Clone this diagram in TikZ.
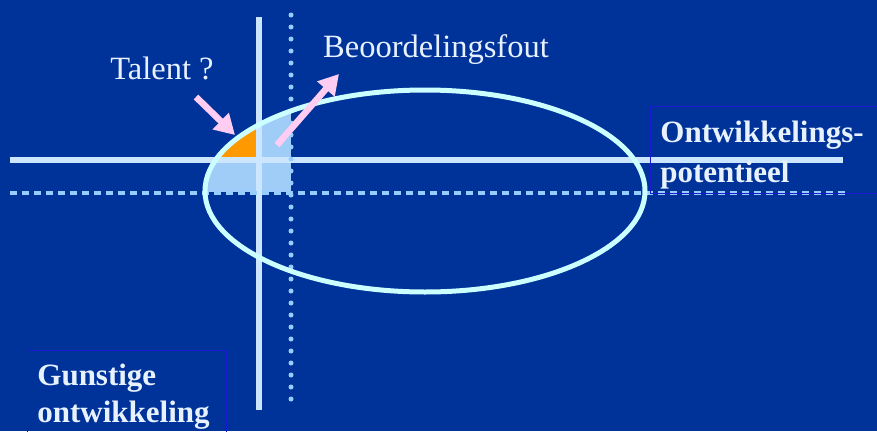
\documentclass[tikz,border=0pt]{standalone}
\usepackage{fontspec}
\setmainfont{Liberation Serif}
\usetikzlibrary{arrows.meta, positioning}
\definecolor{cBack}{HTML}{003399}
\definecolor{cAxis}{HTML}{CCE6FF}
\definecolor{cDots}{HTML}{99CCFF}
\definecolor{cRing}{HTML}{CCFFFF}
\definecolor{cZone}{HTML}{A0CCF8}
\definecolor{cTalent}{HTML}{FF9900}
\definecolor{cPointer}{HTML}{FFCCF2}
\definecolor{cFrame}{HTML}{1A1AD0}
\definecolor{cText}{HTML}{E8F2FF}
\tikzset{
  axisline/.style={draw=cAxis, line width=5.5pt},
  dotline/.style={draw=cDots, line width=5pt, line cap=round, dash pattern=on 0pt off 12pt},
  dashline/.style={draw=cDots, line width=4pt, dash pattern=on 7pt off 5pt},
  ring/.style={draw=cRing, line width=5pt},
  pointer/.style={-{Triangle[length=20pt, width=22pt]}, line width=6.5pt, draw=cPointer},
  plainlabel/.style={text=cText, font=\fontsize{32.5}{36}\selectfont, inner sep=0pt},
  framelabel/.style={draw=cFrame, line width=0.8pt, text=cText, align=left,
    inner xsep=10pt, inner ysep=0pt, text height=21pt, anchor=north west},
}
\begin{document}
\begin{tikzpicture}[x=1pt, y=-1pt]
  \useasboundingbox (0,0) rectangle (877,431);
  \fill[cBack] (0,0) rectangle (877,431);

  % ----------------------------------------------------------------
  % Shaded zones inside the ellipse
  % ----------------------------------------------------------------
  \begin{scope}
    \clip (425,191) ellipse [x radius=220, y radius=101];
    \fill[cZone] (150,60) rectangle (291,192);
    \fill[cTalent] (150,60) rectangle (259,160);
  \end{scope}

  % ----------------------------------------------------------------
  % Axes: true (solid) and judged (dotted)
  % ----------------------------------------------------------------
  \coordinate (vtop) at (259,17);
  \coordinate (vbot) at (259,410);
  \coordinate (hleft) at (10,160);
  \coordinate (hright) at (843,160);
  \coordinate (dtop) at (291,15);
  \coordinate (dbot) at (291,408);
  \coordinate (dleft) at (10,193);
  \coordinate (dright) at (846,193);

  \draw[axisline] (vtop) -- (vbot);
  \draw[axisline] (hleft) -- (hright);
  \draw[dotline] (dtop) -- (dbot);
  \draw[dashline] (dleft) -- (dright);

  \draw[ring] (425,191) ellipse [x radius=220, y radius=101];

  % ----------------------------------------------------------------
  % Labels and pointers
  % ----------------------------------------------------------------
  \node[plainlabel] (talent) at (162,68) {Talent ?};
  \node[plainlabel] (fout) at (436,50) {Beoordelingsfout};

  \coordinate (talenttail) at (196,97);
  \coordinate (talenttip) at (235,135);
  \coordinate (fouttail) at (277,145);
  \coordinate (fouttip) at (339,74);

  \draw[pointer] (talenttail) -- (talenttip);
  \draw[pointer] (fouttail) -- (fouttip);

  \node[framelabel, font=\fontsize{31}{40}\selectfont\bfseries,
    text width=208pt, text depth=36pt, minimum height=87pt] (potentieel) at (650,106)
    {Ontwikkelings-\\potentieel};
  \node[framelabel, font=\fontsize{31}{37}\selectfont\bfseries,
    text width=179pt, text depth=37pt, minimum height=86pt] (gunstig) at (27,350)
    {Gunstige\\ontwikkeling};

\end{tikzpicture}
\end{document}
